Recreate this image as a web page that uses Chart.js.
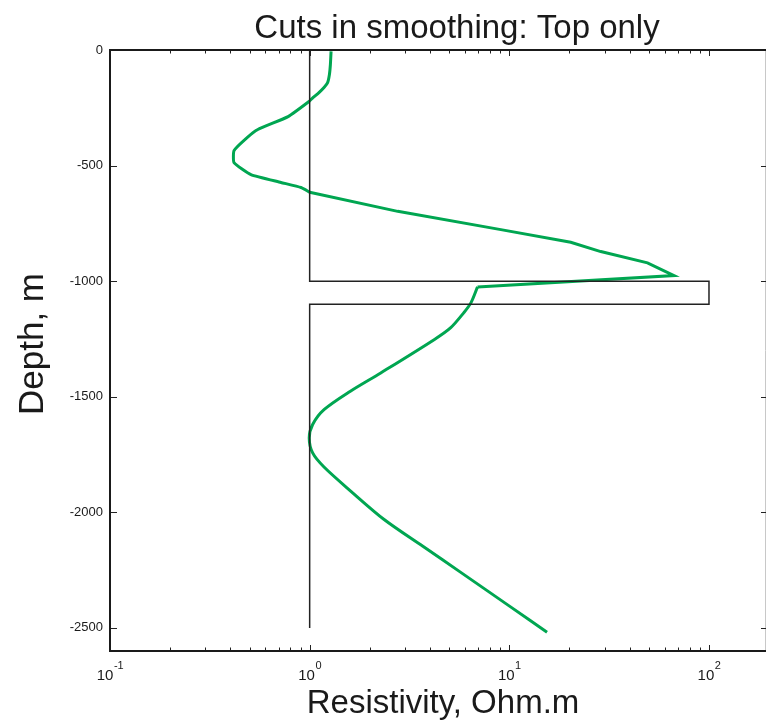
<!DOCTYPE html>
<html><head><meta charset="utf-8">
<script src="https://cdn.jsdelivr.net/npm/chart.js@4"></script>
<style>html,body{margin:0;padding:0;background:#fff;}#wrap{width:767px;height:721px;}</style>
</head><body><div id="wrap"><canvas id="c" width="767" height="721"></canvas></div>
<script>
// ---- data ----
const modelResistivity = [1, 1, 100, 100, 1, 1];
const modelDepth = [0, -1000, -1000, -1100, -1100, -2500];

// smoothed inversion: upper part (to -615 m)
const upperResistivity = [1.28, 1.27, 1.256, 1.23, 1.18, 1.113, 1.039, 0.992, 0.78, 0.55, 0.48, 0.418, 0.418, 0.508, 0.718, 0.905, 1.0];
const upperDepth = [-6, -63, -106, -141, -162, -184, -206, -223, -288, -344, -383, -435, -487, -539, -573, -595, -615];
// middle part (-615 m to -1025 m), sharp corners
const middleResistivity = [1.0, 2.76, 9.07, 20.3, 28.7, 49.2, 66.8, 6.93];
const middleDepth = [-615, -698, -777, -832, -872, -921, -976, -1025];
// lower part (-1025 m to bottom), smooth
const lowerResistivity = [6.93, 6.42, 5.92, 5.09, 4.2, 2.27, 1.6, 1.18, 1.035, 0.995, 1.035, 1.18, 1.61, 2.36, 3.69, 5.76, 10.06, 15.45];
const lowerDepth = [-1025, -1094, -1136, -1201, -1253, -1397, -1476, -1556, -1620, -1678, -1743, -1804, -1909, -2031, -2147, -2262, -2407, -2519];

const xTickValues = [0.1, 1, 10, 100];
const xTickBase = '10';
const xTickExponents = ['-1', '0', '1', '2'];
const yTickValues = [0, -500, -1000, -1500, -2000, -2500];
const yTickLabels = ['0', '-500', '-1000', '-1500', '-2000', '-2500'];

const titleText = 'Cuts in smoothing: Top only';
const xTitle = 'Resistivity, Ohm.m';
const yTitle = 'Depth, m';

const FONT = '"Liberation Sans", Arial, Helvetica, sans-serif';
const GREEN = 'rgb(0,166,81)';

const toXY = (xs, ys) => xs.map((x, i) => ({ x: x, y: ys[i] }));

const framePlugin = {
  id: 'frame',
  afterDatasetsDraw(chart) {
    const { ctx, chartArea: a, scales } = chart;
    const xs = scales.x, ys = scales.y;
    ctx.save();
    ctx.strokeStyle = '#c8c8c8';
    ctx.lineWidth = 1;
    ctx.beginPath(); ctx.moveTo(a.right - 0.5, a.top); ctx.lineTo(a.right - 0.5, a.bottom); ctx.stroke();
    ctx.strokeStyle = '#222';
    ctx.lineWidth = 1;
    ctx.beginPath();
    for (let d = -1; d <= 2; d++) {
      for (let k = 1; k <= 9; k++) {
        const v = k * Math.pow(10, d);
        if (v < xs.min || v > xs.max) continue;
        const px = Math.round(xs.getPixelForValue(v)) + 0.5;
        const len = k === 1 ? 6 : 3.5;
        ctx.moveTo(px, a.bottom); ctx.lineTo(px, a.bottom - len);
        ctx.moveTo(px, a.top); ctx.lineTo(px, a.top + len);
      }
    }
    yTickValues.forEach(v => {
      const py = Math.round(ys.getPixelForValue(v)) + 0.5;
      ctx.moveTo(a.left, py); ctx.lineTo(a.left + 7, py);
      ctx.moveTo(a.right, py); ctx.lineTo(a.right - 5, py);
    });
    ctx.stroke();
    ctx.strokeStyle = '#1a1a1a';
    ctx.lineWidth = 2;
    ctx.beginPath();
    ctx.moveTo(a.right, a.top); ctx.lineTo(a.left, a.top); ctx.lineTo(a.left, a.bottom); ctx.lineTo(a.right, a.bottom);
    ctx.stroke();
    ctx.restore();
  },
  afterDraw(chart) {
    const { ctx, scales } = chart;
    const xs = scales.x;
    ctx.save();
    ctx.fillStyle = '#1a1a1a';
    xTickValues.forEach((v, i) => {
      const px = xs.getPixelForValue(v);
      ctx.font = '15px ' + FONT;
      const wb = ctx.measureText(xTickBase).width;
      ctx.font = '11px ' + FONT;
      const we = ctx.measureText(xTickExponents[i]).width;
      const x0 = px - (wb + we) / 2;
      ctx.textAlign = 'left';
      ctx.textBaseline = 'alphabetic';
      ctx.font = '15px ' + FONT;
      ctx.fillText(xTickBase, x0, 680);
      ctx.font = '11px ' + FONT;
      ctx.fillText(xTickExponents[i], x0 + wb + 0.5, 669);
    });
    ctx.textAlign = 'center';
    ctx.textBaseline = 'alphabetic';
    ctx.font = '33px ' + FONT;
    ctx.fillText(titleText, 457, 38);
    ctx.font = '33px ' + FONT;
    ctx.fillText(xTitle, 443, 713);
    ctx.translate(43, 344);
    ctx.rotate(-Math.PI / 2);
    ctx.font = '35px ' + FONT;
    ctx.fillText(yTitle, 0, 0);
    ctx.restore();
  }
};

new Chart(document.getElementById('c'), {
  type: 'scatter',
  data: {
    datasets: [
      { label: 'Model', data: toXY(modelResistivity, modelDepth), showLine: true,
        borderColor: '#222222', borderWidth: 1.5, pointRadius: 0, tension: 0 },
      { label: 'Smooth upper', data: toXY(upperResistivity, upperDepth), showLine: true,
        borderColor: GREEN, borderWidth: 3, pointRadius: 0, tension: 0.15 },
      { label: 'Smooth middle', data: toXY(middleResistivity, middleDepth), showLine: true,
        borderColor: GREEN, borderWidth: 3, pointRadius: 0, tension: 0 },
      { label: 'Smooth lower', data: toXY(lowerResistivity, lowerDepth), showLine: true,
        borderColor: GREEN, borderWidth: 3, pointRadius: 0, tension: 0.3 }
    ]
  },
  options: {
    responsive: false,
    devicePixelRatio: 1,
    animation: false,
    layout: { padding: { top: 50, right: 1, left: 0, bottom: 0 } },
    plugins: { legend: { display: false }, tooltip: { enabled: false }, title: { display: false } },
    scales: {
      x: {
        type: 'logarithmic',
        position: 'bottom',
        min: 0.1,
        max: 193,
        grid: { display: false, drawTicks: false },
        border: { display: false },
        afterBuildTicks(s) { s.ticks = xTickValues.map(v => ({ value: v })); },
        afterFit(s) { s.height = 70; },
        ticks: { display: false, autoSkip: false, maxRotation: 0 }
      },
      y: {
        type: 'linear',
        min: -2600,
        max: 0,
        grid: { display: false, drawTicks: false },
        border: { display: false },
        afterBuildTicks(s) { s.ticks = yTickValues.map(v => ({ value: v })); },
        afterFit(s) { s.width = 110; },
        ticks: {
          autoSkip: false,
          padding: 7,
          color: '#1a1a1a',
          font: { family: FONT, size: 13 },
          callback(v) { const i = yTickValues.indexOf(v); return i >= 0 ? yTickLabels[i] : ''; }
        }
      }
    }
  },
  plugins: [framePlugin]
});
</script>
</body></html>
